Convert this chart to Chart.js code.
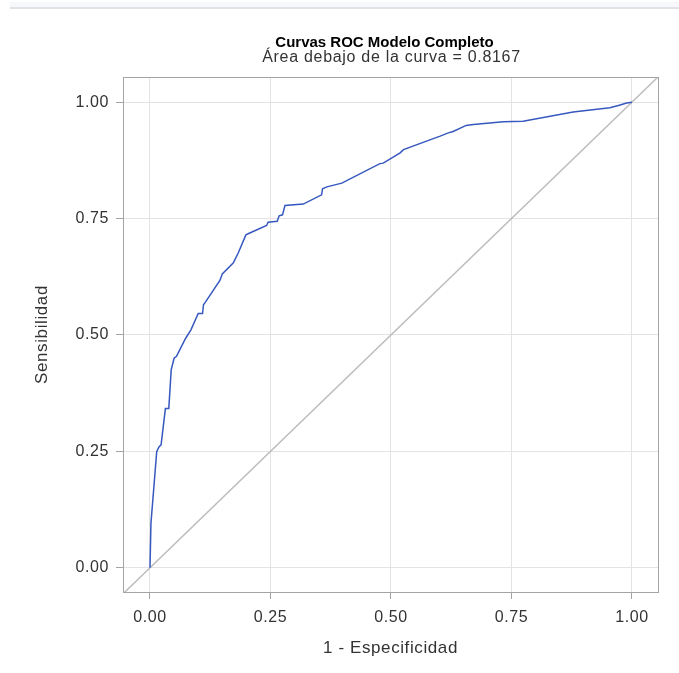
<!DOCTYPE html>
<html>
<head>
<meta charset="utf-8">
<script src="https://cdn.jsdelivr.net/npm/chart.js@4.4.1/dist/chart.umd.min.js"></script>
<style>
  html, body { margin: 0; padding: 0; background: #fff; }
  #topbar { position: absolute; left: 10px; right: 0; top: 2px; height: 5px; background: #f7f8fc; border-bottom: 2px solid #e2e2e6; }
  #roc { position: absolute; left: 0; top: 0; }
</style>
</head>
<body>
<div id="topbar"></div>
<canvas id="roc" width="679" height="673"></canvas>
<script>
// ROC curve points
const fpr = [0, 0.002, 0.014, 0.019, 0.023, 0.032, 0.039, 0.044, 0.050, 0.055,
  0.074, 0.085, 0.100, 0.109, 0.111, 0.116, 0.145, 0.150, 0.173, 0.183,
  0.199, 0.207, 0.242, 0.245, 0.264, 0.268, 0.275, 0.280, 0.318, 0.356,
  0.358, 0.367, 0.398, 0.477, 0.484, 0.519, 0.526, 0.602, 0.619, 0.629,
  0.656, 0.671, 0.733, 0.774, 0.878, 0.954, 0.972, 0.989, 1.0];
const tpr = [0, 0.096, 0.250, 0.260, 0.264, 0.342, 0.342, 0.425, 0.450, 0.454,
  0.493, 0.511, 0.546, 0.546, 0.565, 0.572, 0.617, 0.631, 0.655, 0.676,
  0.715, 0.719, 0.735, 0.742, 0.744, 0.756, 0.758, 0.778, 0.781, 0.801,
  0.814, 0.818, 0.826, 0.868, 0.869, 0.891, 0.898, 0.927, 0.934, 0.937,
  0.950, 0.952, 0.958, 0.959, 0.979, 0.988, 0.993, 0.998, 1.0];

// chance line (runs corner to corner, clipped by the plot)
const chanceLine = [-0.1, 1.1];

const xTicks = [0, 0.25, 0.5, 0.75, 1];
const yTicks = [0, 0.25, 0.5, 0.75, 1];

const titleText = 'Curvas ROC Modelo Completo';
const subtitleText = 'Área debajo de la curva = 0.8167';
const xLabel = '1 - Especificidad';
const yLabel = 'Sensibilidad';

const FONT = '"Liberation Sans", Arial, sans-serif';

// the reference text is set a little wider than Arial
const spacingPlugin = {
  id: 'spacing',
  beforeDraw(chart) { chart.ctx.letterSpacing = '0.6px'; }
};

// frame around the plot + the two title lines
const framePlugin = {
  id: 'frame',
  afterDraw(chart) {
    const { ctx, chartArea: a } = chart;
    ctx.save();
    ctx.strokeStyle = '#a4a4a4';
    ctx.lineWidth = 1;
    ctx.strokeRect(Math.round(a.left) + 0.5, Math.round(a.top) + 0.5,
      Math.round(a.right - a.left), Math.round(a.bottom - a.top));
    const cx = (a.left + a.right) / 2;
    ctx.textAlign = 'center';
    ctx.textBaseline = 'alphabetic';
    ctx.fillStyle = '#000';
    ctx.letterSpacing = '0px';
    ctx.font = 'bold 15px ' + FONT;
    ctx.fillText(titleText, cx - 6, 47);
    ctx.fillStyle = '#333';
    ctx.letterSpacing = '0.7px';
    ctx.font = '16px ' + FONT;
    ctx.fillText(subtitleText, cx + 1, 62);
    ctx.restore();
  }
};

const ctx = document.getElementById('roc').getContext('2d');
new Chart(ctx, {
  type: 'scatter',
  data: {
    datasets: [
      {
        label: 'ROC',
        data: fpr.map((x, i) => ({ x, y: tpr[i] })),
        showLine: true,
        borderColor: '#3658bf',
        borderWidth: 1.5,
        pointRadius: 0,
        tension: 0
      },
      {
        label: 'Azar',
        data: chanceLine.map(v => ({ x: v, y: v })),
        showLine: true,
        borderColor: '#bdbdbd',
        borderWidth: 1.5,
        pointRadius: 0
      }
    ]
  },
  options: {
    responsive: false,
    animation: false,
    devicePixelRatio: 1,
    layout: { padding: { top: 77, right: 21, left: 0, bottom: 0 } },
    plugins: {
      legend: { display: false },
      tooltip: { enabled: false }
    },
    scales: {
      x: {
        type: 'linear',
        min: -0.056,
        max: 1.054,
        afterBuildTicks: s => { s.ticks = xTicks.map(v => ({ value: v })); },
        afterFit: s => { s.height = 81; },
        border: { display: false },
        grid: { color: '#e3e3e3', tickColor: '#a4a4a4', tickLength: 7 },
        ticks: {
          callback: v => Number(v).toFixed(2),
          color: '#333',
          font: { family: FONT, size: 16 },
          padding: 9,
          maxRotation: 0
        },
        title: {
          display: true,
          text: xLabel,
          color: '#333',
          font: { family: FONT, size: 17 },
          padding: { top: 0, bottom: 14 }
        }
      },
      y: {
        type: 'linear',
        min: -0.052,
        max: 1.054,
        afterBuildTicks: s => { s.ticks = yTicks.map(v => ({ value: v })); },
        afterFit: s => { s.width = 123; },
        border: { display: false },
        grid: { color: '#e3e3e3', tickColor: '#a4a4a4', tickLength: 7 },
        ticks: {
          callback: v => Number(v).toFixed(2),
          color: '#333',
          font: { family: FONT, size: 16 },
          padding: 7
        },
        title: {
          display: true,
          text: yLabel,
          color: '#333',
          font: { family: FONT, size: 17 },
          padding: { top: 32, bottom: 0 }
        }
      }
    }
  },
  plugins: [spacingPlugin, framePlugin]
});
</script>
</body>
</html>
